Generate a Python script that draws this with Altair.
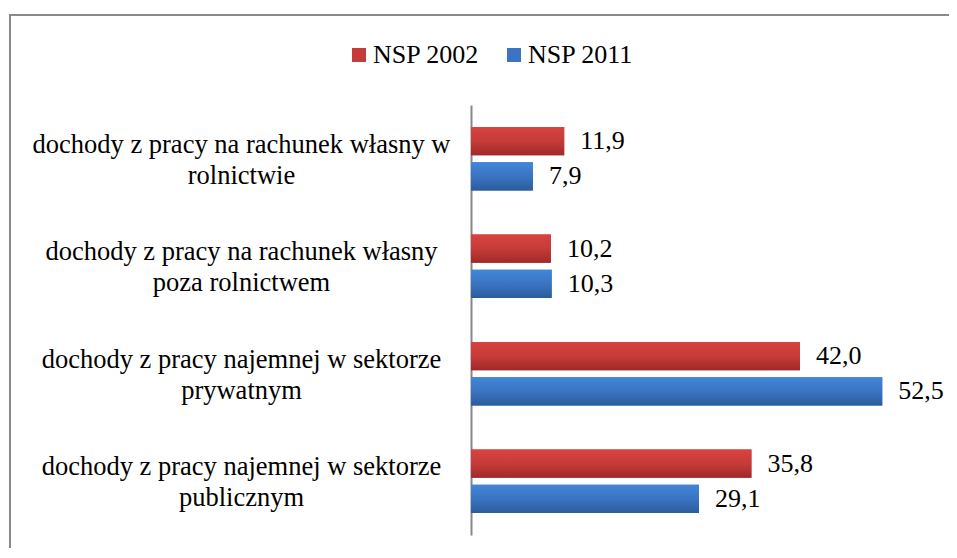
import altair as alt
import pandas as pd

categories = [
    "dochody z pracy na rachunek własny w|rolnictwie",
    "dochody z pracy na rachunek własny|poza rolnictwem",
    "dochody z pracy najemnej w sektorze|prywatnym",
    "dochody z pracy najemnej w sektorze|publicznym",
]
series = ["NSP 2002", "NSP 2011"]
v2002 = [11.9, 10.2, 42.0, 35.8]
v2011 = [7.9, 10.3, 52.5, 29.1]
colors = ["#c63b3a", "#3a74c2"]

rows = []
for c, a, b in zip(categories, v2002, v2011):
    rows.append({"cat": c, "series": series[0], "value": a})
    rows.append({"cat": c, "series": series[1], "value": b})
df = pd.DataFrame(rows)

FONT = "Liberation Serif"

y_enc = alt.Y(
    "cat:N",
    sort=categories,
    scale=alt.Scale(paddingInner=0.41, paddingOuter=0.205),
    axis=alt.Axis(
        title=None,
        labelExpr="split(datum.label, '|')",
        labelAlign="center",
        labelBaseline="middle",
        labelPadding=230,
        labelOffset=-14,
        labelFont=FONT,
        labelFontSize=26.5,
        labelColor="#000000",
        labelLineHeight=31,
        labelLimit=0,
        ticks=False,
        tickSize=0,
        domainColor="#878787",
        domainWidth=2,
        grid=False,
    ),
)
yoff = alt.YOffset("series:N", sort=series, scale=alt.Scale(paddingInner=0.2, paddingOuter=0))
x_enc = alt.X("value:Q", scale=alt.Scale(domain=[0, 60]), axis=None)

base = alt.Chart(df).encode(y=y_enc, yOffset=yoff, x=x_enc)

bars = base.mark_bar().encode(
    color=alt.Color(
        "series:N",
        sort=series,
        scale=alt.Scale(domain=series, range=colors),
        legend=alt.Legend(
            title=None,
            orient="none",
            legendX=-125,
            legendY=-63,
            direction="horizontal",
            symbolType="square",
            symbolSize=196,
            symbolStrokeWidth=0,
            labelFont=FONT,
            labelFontSize=26,
            labelColor="#000000",
            labelOffset=1,
            columnPadding=21,
        ),
    )
)

grad_red = alt.Gradient(
    gradient="linear",
    stops=[
        alt.GradientStop(color="#d8433f", offset=0),
        alt.GradientStop(color="#c63b39", offset=0.5),
        alt.GradientStop(color="#9f2a29", offset=1),
    ],
    x1=0, x2=0, y1=0, y2=1,
)
grad_blue = alt.Gradient(
    gradient="linear",
    stops=[
        alt.GradientStop(color="#4386d8", offset=0),
        alt.GradientStop(color="#3a74c2", offset=0.5),
        alt.GradientStop(color="#2b5c9c", offset=1),
    ],
    x1=0, x2=0, y1=0, y2=1,
)
red_bars = base.transform_filter(alt.datum.series == series[0]).mark_bar(color=grad_red)
blue_bars = base.transform_filter(alt.datum.series == series[1]).mark_bar(color=grad_blue)

labels = base.transform_calculate(
    lbl="replace(format(datum.value, '.1f'), '.', ',')"
).mark_text(align="left", baseline="middle", dx=16, font=FONT, fontSize=26, color="#000000").encode(
    text="lbl:N"
)

one = pd.DataFrame({"a": [0]})
frame_top = alt.Chart(one).mark_rule(color="#8a8a8a", strokeWidth=2).encode(
    x=alt.value(-461), x2=alt.value(480), y=alt.value(-90)
)
frame_left = alt.Chart(one).mark_rule(color="#8a8a8a", strokeWidth=2).encode(
    x=alt.value(-461), y=alt.value(-91), y2=alt.value(445)
)

chart = (
    alt.layer(frame_top, frame_left, bars, red_bars, blue_bars, labels)
    .properties(
        width=470,
        height=430,
        autosize=alt.AutoSizeParams(type="none"),
        padding={"left": 463, "top": 97, "right": 8, "bottom": 13},
    )
    .configure(font=FONT)
    .configure_view(strokeWidth=0, stroke="transparent")
)

chart.save("out.html", embed_options={"renderer": "svg", "actions": False})
